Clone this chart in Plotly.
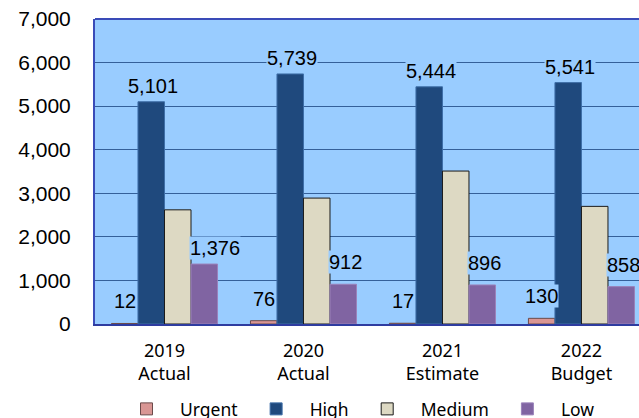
import plotly.graph_objects as go

categories = ["2019<br>Actual", "2020<br>Actual", "2021<br>Estimate", "2022<br>Budget"]
series_names = ["Urgent", "High", "Medium", "Low"]
urgent = [12, 76, 17, 130]
high = [5101, 5739, 5444, 5541]
medium = [2620, 2890, 3510, 2700]
low = [1376, 912, 896, 858]
y_ticks = [0, 1000, 2000, 3000, 4000, 5000, 6000, 7000]

colors = ["#D99694", "#1F497D", "#DDD9C3", "#8064A2"]
line_colors = ["#6B4A4A", "#3F6FA8", "#1A1A1A", "#9A82BA"]
values = [urgent, high, medium, low]
labelled = [True, True, False, True]

BG = "#99CCFF"
BARGAP = 0.237

fig = go.Figure()
for name, vals, c, lc in zip(series_names, values, colors, line_colors):
    fig.add_trace(go.Bar(
        name=name, x=list(range(len(categories))), y=vals,
        marker=dict(color=c, line=dict(color=lc, width=1)),
        hoverinfo="skip",
    ))

# data labels as annotations (with background that hides gridlines)
n = len(series_names)
bw = (1 - BARGAP) / n
annotations = []
for si, (vals, lab) in enumerate(zip(values, labelled)):
    if not lab:
        continue
    center_off = -(1 - BARGAP) / 2 + bw * (si + 0.5)
    for ci, v in enumerate(vals):
        if series_names[si] == "Low":
            xpos = ci + center_off - bw / 2
            xanchor = "left"
            xshift = -2
        elif series_names[si] == "Urgent":
            xpos = ci + center_off
            xanchor = "center"
            xshift = 0
        else:
            xpos = ci + center_off
            xanchor = "center"
            xshift = 2
        yshift = 4 if v > 1000 else 10
        annotations.append(dict(
            x=xpos, y=v, xref="x", yref="y", text=f"{v:,}",
            showarrow=False, xanchor=xanchor, yanchor="bottom",
            xshift=xshift, yshift=yshift,
            font=dict(family="Liberation Sans, Arial", size=20, color="#000000"),
            bgcolor=BG, borderpad=0,
        ))

fig.update_layout(
    width=639, height=418,
    margin=dict(l=95, r=0, t=19, b=94),
    paper_bgcolor="white", plot_bgcolor=BG,
    barmode="group", bargap=BARGAP, bargroupgap=0,
    showlegend=True,
    legend=dict(
        orientation="h", x=(113 - 95) / 544, xanchor="left",
        yref="container", y=(418 - 409) / 418, yanchor="middle",
        font=dict(family="Noto Sans", size=17.5, color="#000"),
        itemwidth=57, bgcolor="rgba(0,0,0,0)",
        itemclick=False, itemdoubleclick=False,
    ),
    annotations=annotations,
    shapes=[dict(type="line", xref="paper", yref="paper", x0=0, x1=1, y0=1, y1=1,
                 line=dict(color="#3A4BB8", width=2))],
)
fig.update_xaxes(
    tickmode="array", tickvals=list(range(len(categories))), ticktext=categories,
    range=[-0.5, 3.414], showgrid=False, zeroline=False,
    showline=True, linecolor="#2E3CA0", linewidth=2,
    ticks="", ticklabelstandoff=9, automargin=False,
    tickfont=dict(family="Noto Sans", size=18, color="#000"),
)
fig.update_yaxes(
    range=[0, 7000], tickvals=y_ticks, tickformat=",d",
    showgrid=True, gridcolor="#34609A", gridwidth=1.2,
    zeroline=False, showline=True, linecolor="#3A4BB8", linewidth=2,
    ticks="", ticklabelstandoff=18, automargin=False,
    tickfont=dict(family="Liberation Sans, Arial", size=21, color="#000"),
)

fig.write_html("out.html")
